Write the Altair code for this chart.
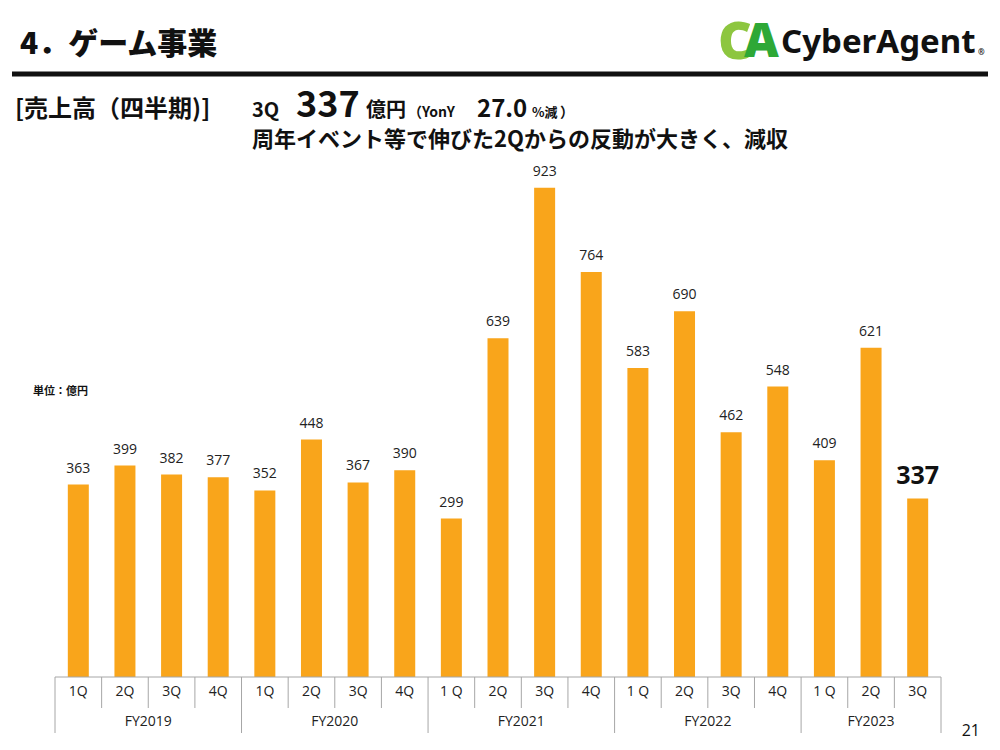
import altair as alt
import pandas as pd

# ---- data ----
fy_labels = ["FY2019", "FY2020", "FY2021", "FY2022", "FY2023"]
quarter_labels = [
    ["1Q", "2Q", "3Q", "4Q"],
    ["1Q", "2Q", "3Q", "4Q"],
    ["1 Q", "2Q", "3Q", "4Q"],
    ["1 Q", "2Q", "3Q", "4Q"],
    ["1 Q", "2Q", "3Q"],
]
values = [363, 399, 382, 377, 352, 448, 367, 390, 299, 639, 923, 764,
          583, 690, 462, 548, 409, 621, 337]

# ---- build tables ----
rows = []
fy_rows = []
sep_rows = []
i = 0
for fy, qs in zip(fy_labels, quarter_labels):
    start = i
    sep_rows.append({"pos": start, "kind": "fy"})
    for k, q in enumerate(qs):
        if k > 0:
            sep_rows.append({"pos": i, "kind": "q"})
        rows.append({"center": i + 0.5, "q": q, "fy": fy, "value": values[i],
                     "last": i == len(values) - 1})
        i += 1
    fy_rows.append({"center": (start + i) / 2, "fy": fy})
sep_rows.append({"pos": i, "kind": "fy"})

df = pd.DataFrame(rows)
df_fy = pd.DataFrame(fy_rows)
df_sep = pd.DataFrame(sep_rows)
N = len(values)

W, H = 896, 530
ORANGE = "#F9A51B"
JP = "Noto Sans CJK JP"
NUM = "Open Sans"

xs = alt.Scale(domain=[0, N], range=[0, W], nice=False, zero=False)
ys = alt.Scale(domain=[0, 1000], range=[H, 0], nice=False)
X = lambda f: alt.X(f, type="quantitative", scale=xs, axis=None)

base = alt.Chart(df)

bars = base.mark_bar(color=ORANGE, size=21).encode(
    x=X("center"), y=alt.Y("value:Q", scale=ys, axis=None))

labels = base.transform_filter("!datum.last").mark_text(
    font=NUM, fontSize=14, baseline="bottom", dy=-9, color="#222").encode(
    x=X("center"), y=alt.Y("value:Q", scale=ys), text="value:Q")

last_label = base.transform_filter("datum.last").mark_text(
    font=NUM, fontSize=25, fontWeight="bold", baseline="bottom", dy=-9,
    color="#111").encode(
    x=X("center"), y=alt.Y("value:Q", scale=ys), text="value:Q")

axis_line = alt.Chart(df_sep).transform_aggregate(
    lo="min(pos)", hi="max(pos)").mark_rule(color="#A6A6A6", strokeWidth=1).encode(
    x=X("lo"), x2="hi:Q", y=alt.value(H))

q_seps = alt.Chart(df_sep).transform_filter("datum.kind == 'q'").mark_rule(
    color="#A6A6A6", strokeWidth=1).encode(
    x=X("pos"), y=alt.value(H), y2=alt.value(H + 31))

fy_seps = alt.Chart(df_sep).transform_filter("datum.kind == 'fy'").mark_rule(
    color="#A6A6A6", strokeWidth=1).encode(
    x=X("pos"), y=alt.value(H), y2=alt.value(H + 56))

q_text = base.mark_text(font=NUM, fontSize=14, color="#222").encode(
    x=X("center"), y=alt.value(H + 15), text="q:N")

fy_text = alt.Chart(df_fy).mark_text(font=NUM, fontSize=14, color="#222").encode(
    x=X("center"), y=alt.value(H + 45), text="fy:N")


def txt(t, x, y, size, color="#111", weight="bold", font=JP, align="left",
        baseline="alphabetic"):
    return alt.Chart(pd.DataFrame({"t": [t]})).mark_text(
        font=font, fontSize=size, fontWeight=weight, color=color,
        align=align, baseline=baseline).encode(
        x=alt.value(x), y=alt.value(y), text="t:N")


title = txt("4．ゲーム事業", -30, -102, 30, weight=900, baseline="middle")
rule_top = alt.Chart(pd.DataFrame({"a": [0]})).mark_rule(
    color="#111", strokeWidth=5).encode(
    x=alt.value(-38), x2=alt.value(938), y=alt.value(-73))

logo_c = txt("C", 668, -104, 52, color="#8DC63F", weight=900, font="Noto Sans",
             baseline="middle")
logo_a = txt("A", 694, -104, 48, color="#2EA836", weight=900, font="Noto Sans",
             baseline="middle")
logo_t = txt("CyberAgent", 731, -104, 33, color="#111", weight="bold",
             font="Noto Sans", baseline="middle")
logo_r = txt("®", 928, -94, 8, color="#111", weight="bold", font="Noto Sans",
             baseline="middle")

sub_base = -30
s1 = txt("[売上高（四半期)]", -35, sub_base, 24)
s2 = txt("3Q", 202, sub_base, 20)
s3 = txt("337", 246, sub_base, 36)
s4 = txt("億円", 316, sub_base, 20)
s5 = txt("（YonY", 358, sub_base, 14)
s6 = txt("27.0", 427, sub_base, 24)
s7 = txt("%減", 482, sub_base, 13)
s8 = txt("）", 510, sub_base, 14)
line2 = txt("周年イベント等で伸びた2Qからの反動が大きく、減収", 202, -7, 22,
            baseline="middle")

unit = txt("単位：億円", -17, 245, 11, baseline="middle")
page = txt("21", 930, 584, 16, weight="normal", font=NUM, align="right",
           baseline="middle")

chart = alt.layer(
    bars, labels, last_label, axis_line, q_seps, fy_seps, q_text, fy_text,
    title, rule_top, logo_c, logo_a, logo_t, logo_r,
    s1, s2, s3, s4, s5, s6, s7, s8, line2, unit, page
).properties(
    width=W, height=H,
    autosize=alt.AutoSizeParams(type="none"),
    padding={"left": 42, "top": 139, "right": 46, "bottom": 65},
).configure(background="white").configure_view(strokeWidth=0, stroke=None)

chart.save("out.html", embed_options={"renderer": "svg", "actions": False})
